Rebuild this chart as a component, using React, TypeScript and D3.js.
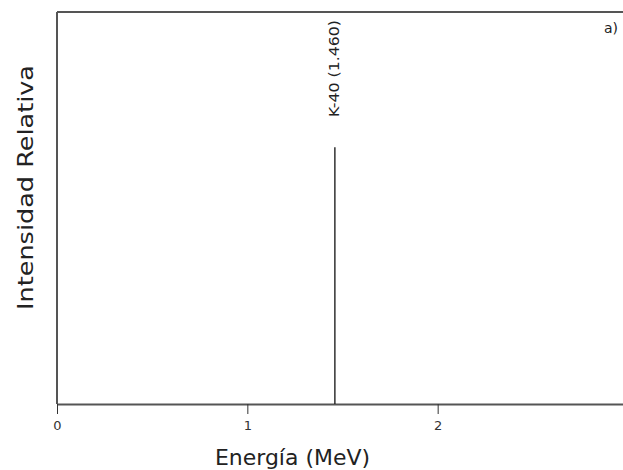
import React, { useEffect, useRef } from "react";
import * as d3 from "d3";

const energies = [1.46];
const intensities = [0.655];
const peakLabels = ["K-40 (1.460)"];
const xTicks = [0, 1, 2, 3];

const width = 623;
const height = 470;
const marginLeft = 57;
const marginTop = 12;
const marginBottom = 66;
const font = "Verdana, 'DejaVu Sans', sans-serif";

export default function App() {
  const svgRef = useRef<SVGSVGElement>(null);

  useEffect(() => {
    const svg = d3.select(svgRef.current);
    svg.selectAll("*").remove();

    const x = d3.scaleLinear().domain([0, 3]).range([marginLeft, 628]);
    const y = d3.scaleLinear().domain([0, 1]).range([height - marginBottom, marginTop]);

    const frame = "#555";

    // top border and left axis
    svg.append("line")
      .attr("x1", marginLeft).attr("x2", width)
      .attr("y1", y(1)).attr("y2", y(1))
      .attr("stroke", frame).attr("stroke-width", 2);
    svg.append("line")
      .attr("x1", marginLeft).attr("x2", marginLeft)
      .attr("y1", y(1)).attr("y2", y(0))
      .attr("stroke", frame).attr("stroke-width", 2);

    const xAxis = svg.append("g")
      .attr("transform", `translate(0,${y(0)})`)
      .call(d3.axisBottom(x).tickValues(xTicks).tickFormat(d3.format("d")).tickSize(10).tickSizeOuter(0));
    xAxis.select(".domain").attr("stroke", frame).attr("stroke-width", 2);
    xAxis.selectAll(".tick line").attr("stroke", "#333").attr("stroke-width", 1);
    xAxis.selectAll(".tick text")
      .attr("font-family", font).attr("font-size", 13).attr("fill", "#333")
      .attr("y", 17).attr("dy", "0.71em");

    // peaks
    energies.forEach((e, i) => {
      svg.append("line")
        .attr("x1", x(e)).attr("x2", x(e))
        .attr("y1", y(0)).attr("y2", y(intensities[i]))
        .attr("stroke", "#111").attr("stroke-width", 1.3);
      svg.append("text")
        .attr("transform", `translate(${x(e) + 4},117) rotate(-90)`)
        .attr("font-family", font).attr("font-size", 13.5).attr("fill", "#222")
        .attr("textLength", 97).attr("lengthAdjust", "spacingAndGlyphs")
        .text(peakLabels[i]);
    });

    svg.append("text")
      .attr("x", 618).attr("y", 33)
      .attr("text-anchor", "end")
      .attr("font-family", font).attr("font-size", 14).attr("fill", "#222")
      .text("a)");

    svg.append("text")
      .attr("x", 292.5).attr("y", 465)
      .attr("text-anchor", "middle")
      .attr("font-family", font).attr("font-size", 22).attr("fill", "#222")
      .attr("textLength", 155).attr("lengthAdjust", "spacingAndGlyphs")
      .text("Energía (MeV)");

    svg.append("text")
      .attr("transform", `translate(33,187.5) rotate(-90)`)
      .attr("text-anchor", "middle")
      .attr("font-family", font).attr("font-size", 21).attr("fill", "#222")
      .attr("textLength", 245).attr("lengthAdjust", "spacingAndGlyphs")
      .text("Intensidad Relativa");
  }, []);

  return (
    <svg
      ref={svgRef}
      width={width}
      height={height}
      style={{ position: "absolute", left: 0, top: 0, background: "#fff" }}
    />
  );
}
